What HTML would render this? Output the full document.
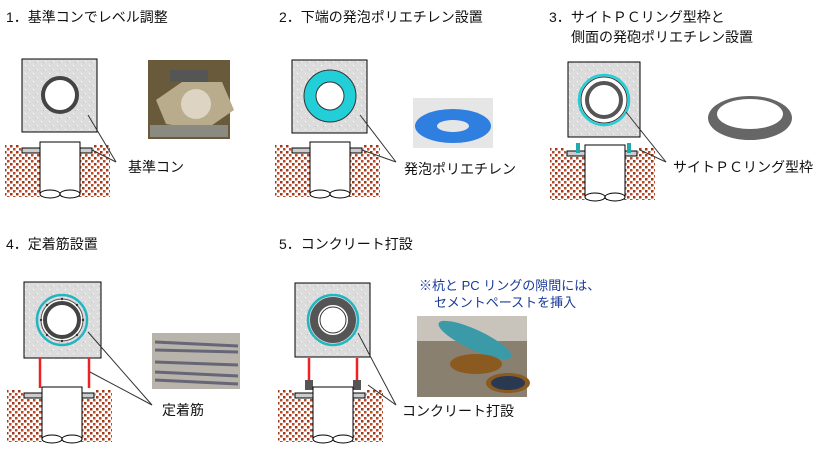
<!DOCTYPE html>
<html><head><meta charset="utf-8"><style>
body{margin:0;background:#fff;width:836px;height:452px;overflow:hidden}
svg{display:block}
text{font-family:"Liberation Sans","Noto Sans CJK JP",sans-serif;font-size:14px;fill:#111}
</style></head><body>
<svg width="836" height="452" viewBox="0 0 836 452">
<defs>
<pattern id="soil" width="6" height="6" patternUnits="userSpaceOnUse">
<rect width="6" height="6" fill="#fff"/><rect x="0" y="0" width="2.5" height="2.5" fill="#a0381c"/><rect x="3" y="3" width="2.5" height="2.5" fill="#b84a28"/>
</pattern>
<pattern id="conc" width="8" height="8" patternUnits="userSpaceOnUse">
<rect width="8" height="8" fill="#dcdcdc"/><rect x="1" y="1" width="1" height="1" fill="#fff"/><rect x="5" y="5" width="1" height="1" fill="#fff"/><rect x="3" y="6" width="1" height="1" fill="#bbb"/>
</pattern>
<g id="ground">
<path d="M-17,0 H-2 L0,8 H70 L72,0 H88 V52 H-17 Z" fill="url(#soil)"/>
<rect x="0" y="3" width="70" height="5" fill="#ccc" stroke="#000" stroke-width="1"/>
<rect x="18" y="-3" width="40" height="52" fill="#fff" stroke="#000"/>
<ellipse cx="28" cy="49" rx="10" ry="4" fill="#fff" stroke="#000"/>
<ellipse cx="48" cy="49" rx="10" ry="4" fill="#fff" stroke="#000"/>
</g>
</defs>

<!-- Titles -->
<text x="6" y="22">1．基準コンでレベル調整</text>
<text x="279" y="22">2．下端の発泡ポリエチレン設置</text>
<text x="549" y="22">3．サイトＰＣリング型枠と</text>
<text x="571" y="42">側面の発砲ポリエチレン設置</text>
<text x="6" y="249">4．定着筋設置</text>
<text x="279" y="249">5．コンクリート打設</text>

<!-- Panel 1 -->
<rect x="22" y="59" width="75" height="73" fill="url(#conc)" stroke="#000"/>
<circle cx="60" cy="95" r="17" fill="#fff" stroke="#444" stroke-width="4"/>
<use href="#ground" x="22" y="145"/>
<rect x="148" y="60" width="82" height="79" fill="#6a5a3c"/>
<rect x="170" y="70" width="38" height="12" fill="#555"/>
<polygon points="182,82 222,82 234,110 205,130 166,124 156,100" fill="#b8ac8c"/>
<circle cx="196" cy="104" r="15" fill="#ddd4c4"/>
<rect x="150" y="125" width="78" height="12" fill="#8a8a80"/>
<line x1="88" y1="115" x2="116" y2="162" stroke="#333"/><line x1="92" y1="150" x2="116" y2="162" stroke="#333"/>
<text x="128" y="172">基準コン</text>

<!-- Panel 2 -->
<rect x="292" y="60" width="75" height="73" fill="url(#conc)" stroke="#000"/>
<circle cx="330" cy="96" r="20" fill="#fff" stroke="#22cfd8" stroke-width="12"/>
<circle cx="330" cy="96" r="26" fill="none" stroke="#333"/><circle cx="330" cy="96" r="14" fill="none" stroke="#333"/>
<use href="#ground" x="292" y="145"/>
<rect x="413" y="98" width="80" height="50" fill="#e6e6e6"/>
<ellipse cx="453" cy="126" rx="38" ry="17" fill="#2e7fe0"/>
<ellipse cx="453" cy="126" rx="16" ry="6" fill="#e6e6e6"/>
<line x1="360" y1="115" x2="396" y2="162" stroke="#333"/><line x1="362" y1="150" x2="396" y2="162" stroke="#333"/>
<text x="404" y="174">発泡ポリエチレン</text>

<!-- Panel 3 -->
<rect x="568" y="62" width="72" height="75" fill="url(#conc)" stroke="#000"/>
<circle cx="604" cy="100" r="25" fill="#fff" stroke="#22cfd8" stroke-width="2.5"/>
<circle cx="604" cy="100" r="23" fill="none" stroke="#333"/>
<circle cx="604" cy="100" r="17" fill="#fff" stroke="#555" stroke-width="4"/>
<use href="#ground" x="567" y="148"/>
<rect x="576" y="143" width="4" height="10" fill="#2aa"/><rect x="627" y="143" width="4" height="10" fill="#2aa"/>
<ellipse cx="750" cy="118" rx="42" ry="22" fill="#666"/>
<ellipse cx="750" cy="114" rx="33" ry="15" fill="#fff"/>
<line x1="626" y1="112" x2="666" y2="162" stroke="#333"/><line x1="640" y1="150" x2="666" y2="162" stroke="#333"/>
<text x="673" y="172">サイトＰＣリング型枠</text>

<!-- Panel 4 -->
<rect x="24" y="282" width="77" height="76" fill="url(#conc)" stroke="#000"/>
<circle cx="62" cy="320" r="25" fill="none" stroke="#22b5c0" stroke-width="2.5"/>
<circle cx="62" cy="320" r="21" fill="#fff" stroke="#555" stroke-width="1"/>
<circle cx="62" cy="320" r="17" fill="#fff" stroke="#444" stroke-width="4"/>
<g fill="#333"><circle cx="62" cy="299" r="1.2"/><circle cx="62" cy="341" r="1.2"/><circle cx="41" cy="320" r="1.2"/><circle cx="83" cy="320" r="1.2"/><circle cx="47" cy="305" r="1.2"/><circle cx="77" cy="305" r="1.2"/><circle cx="47" cy="335" r="1.2"/><circle cx="77" cy="335" r="1.2"/></g>
<line x1="40" y1="358" x2="40" y2="388" stroke="#e22" stroke-width="2.5"/><line x1="89" y1="358" x2="89" y2="388" stroke="#e22" stroke-width="2.5"/>
<use href="#ground" x="24" y="390"/>
<rect x="152" y="333" width="88" height="56" fill="#b8b4ac"/>
<g stroke="#667" stroke-width="3"><line x1="155" y1="342" x2="238" y2="346"/><line x1="155" y1="350" x2="238" y2="352"/><line x1="155" y1="362" x2="238" y2="365"/><line x1="155" y1="372" x2="238" y2="376"/><line x1="155" y1="380" x2="238" y2="384"/></g>
<line x1="88" y1="332" x2="152" y2="405" stroke="#333"/><line x1="90" y1="372" x2="152" y2="405" stroke="#333"/>
<text x="162" y="415">定着筋</text>

<!-- Panel 5 -->
<rect x="295" y="283" width="75" height="74" fill="url(#conc)" stroke="#000"/>
<circle cx="333" cy="320" r="25" fill="none" stroke="#22b5c0" stroke-width="2.5"/>
<circle cx="333" cy="320" r="19" fill="#fff" stroke="#555" stroke-width="8"/>
<circle cx="333" cy="320" r="13" fill="#fff" stroke="#333"/>
<line x1="309" y1="358" x2="309" y2="380" stroke="#e22" stroke-width="2.5"/><line x1="357" y1="358" x2="357" y2="380" stroke="#e22" stroke-width="2.5"/>
<rect x="305" y="380" width="8" height="10" fill="#555"/><rect x="353" y="380" width="8" height="10" fill="#555"/>
<use href="#ground" x="295" y="390"/>
<rect x="417" y="316" width="110" height="81" fill="#8a8070"/>
<rect x="417" y="316" width="110" height="25" fill="#c8c4bc"/>
<ellipse cx="475" cy="340" rx="40" ry="10" fill="#3a9aa8" transform="rotate(25 475 340)"/>
<ellipse cx="476" cy="364" rx="26" ry="10" fill="#8a5a20"/><ellipse cx="508" cy="383" rx="22" ry="10" fill="#8a5a20"/>
<ellipse cx="508" cy="383" rx="17" ry="7" fill="#2a3850"/>
<text x="419" y="290" style="fill:#1a3a9a;font-size:13px">※杭と PC リングの隙間には、</text>
<text x="434" y="307" style="fill:#1a3a9a;font-size:13px">セメントペーストを挿入</text>
<line x1="358" y1="333" x2="396" y2="405" stroke="#333"/><line x1="368" y1="385" x2="396" y2="405" stroke="#333"/>
<text x="402" y="416">コンクリート打設</text>
</svg>
</body></html>
